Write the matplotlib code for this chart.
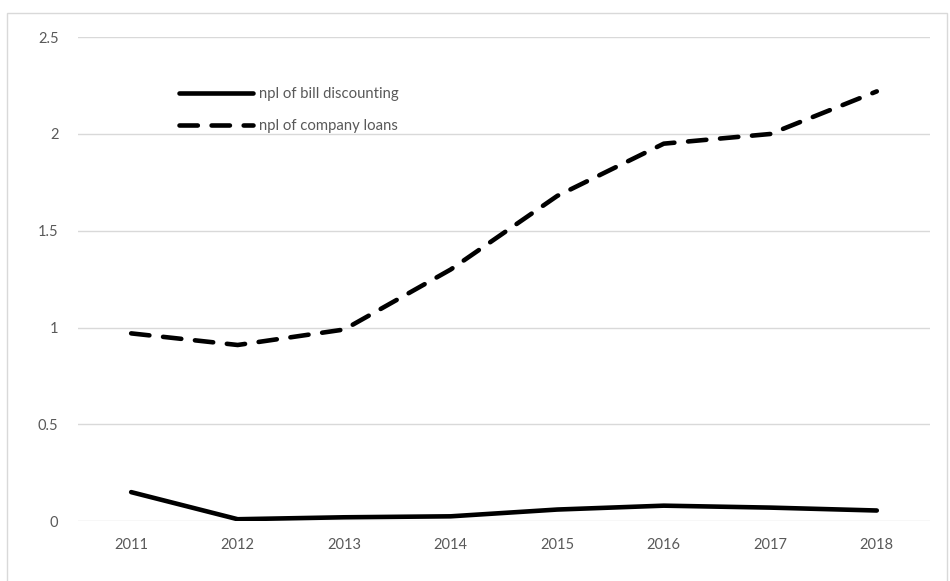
import matplotlib.pyplot as plt
from matplotlib.patches import Rectangle

years = ['2011', '2012', '2013', '2014', '2015', '2016', '2017', '2018']
bill_discounting = [0.15, 0.01, 0.02, 0.025, 0.06, 0.08, 0.07, 0.055]
company_loans = [0.97, 0.91, 0.99, 1.30, 1.68, 1.95, 2.00, 2.22]

plt.rcParams['font.family'] = ['Lato', 'DejaVu Sans']

fig = plt.figure(figsize=(9.5, 5.81), dpi=100)
ax = fig.add_axes([0.082, 0.103, 0.897, 0.833])

# light frame round the chart, as in the spreadsheet export
fig.patches.append(Rectangle((7 / 950, -0.01), 940 / 950, 1 - 13 / 581 + 0.01,
                             transform=fig.transFigure, fill=False,
                             edgecolor='#d9d9d9', linewidth=1))

x = range(len(years))
ax.plot(x, bill_discounting, color='black', linewidth=3.3,
        solid_joinstyle='round', solid_capstyle='round',
        label='npl of bill discounting')
ax.plot(x, company_loans, color='black', linewidth=3.3, linestyle=(0, (4, 3)),
        dash_capstyle='round', dash_joinstyle='round',
        label='npl of company loans')

ax.set_xlim(-0.5, 7.5)
ax.set_ylim(0, 2.5)
ax.set_xticks(list(x))
ax.set_xticklabels(years)
ax.set_yticks([0, 0.5, 1, 1.5, 2, 2.5])
ax.set_yticklabels(['0', '0.5', '1', '1.5', '2', '2.5'])
ax.grid(axis='y', color='#d9d9d9', linewidth=1)
ax.set_axisbelow(True)
for s in ax.spines.values():
    s.set_visible(False)
ax.tick_params(length=0, colors='#595959', labelsize=10.5, pad=12)
ax.tick_params(axis='y', pad=14)

leg = ax.legend(loc='upper left', bbox_to_anchor=(0.103, 0.925), frameon=False,
                handlelength=5.0, handletextpad=0.35, labelspacing=1.25,
                fontsize=10.7)
for t in leg.get_texts():
    t.set_color('#595959')

fig.savefig('out.png', dpi=100)
